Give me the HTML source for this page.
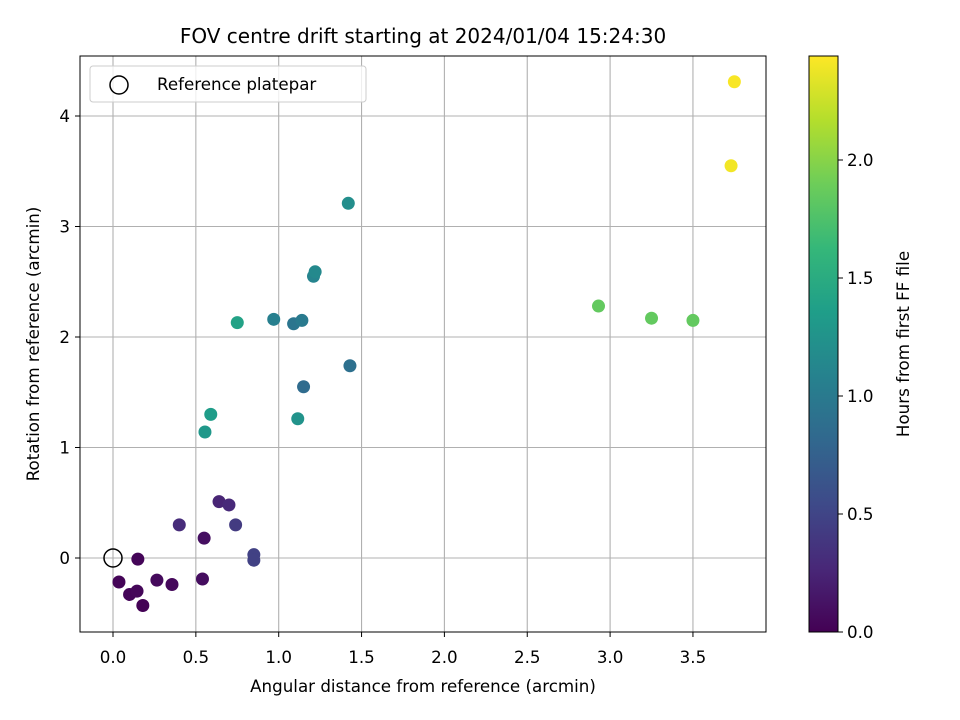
<!DOCTYPE html>
<html><head><meta charset="utf-8"><style>
body{margin:0;background:#fff}
svg{font-family:"DejaVu Sans","Liberation Sans",sans-serif;display:block}
</style></head><body>
<svg id="c" width="960" height="720" xmlns="http://www.w3.org/2000/svg"></svg>
<script>
const xs=[0.036,0.10,0.145,0.18,0.15,0.265,0.356,0.55,0.54,0.40,0.64,0.70,0.74,0.85,0.85,0.555,0.59,0.75,0.97,1.09,1.14,1.115,1.15,1.21,1.22,1.42,1.43,2.93,3.25,3.50,3.73,3.75];
const ys=[-0.217,-0.33,-0.30,-0.43,-0.01,-0.20,-0.24,0.18,-0.19,0.30,0.51,0.48,0.30,0.03,-0.02,1.14,1.30,2.13,2.16,2.12,2.15,1.26,1.55,2.55,2.59,3.21,1.74,2.28,2.17,2.15,3.55,4.31];
const hours=[0.02,0.03,0.04,0.01,0.03,0.06,0.05,0.1,0.08,0.3,0.25,0.28,0.42,0.47,0.47,1.3,1.35,1.4,1.05,0.95,1.0,1.25,0.85,1.1,1.15,1.2,0.9,1.85,1.85,1.85,2.4,2.42];
const xTicks=[0,0.5,1,1.5,2,2.5,3,3.5];
const yTicks=[0,1,2,3,4];
const cTicks=[0,0.5,1,1.5,2];
const X=v=>113+v*165.7, Y=v=>558-v*110.5, C=v=>632-v*236;
const vir=[[68,1,84],[72,40,120],[62,74,137],[49,104,142],[38,130,142],[31,158,137],[53,183,121],[109,205,89],[180,222,44],[253,231,37]];
function col(h){let t=Math.max(0,Math.min(1,h/2.44))*9,i=Math.min(8,Math.floor(t)),f=t-i;const a=vir[i],b=vir[i+1];return `rgb(${a.map((v,k)=>Math.round(v+(b[k]-v)*f)).join(',')})`;}
const s=document.getElementById('c');const NS='http://www.w3.org/2000/svg';
function el(t,a,p){const e=document.createElementNS(NS,t);for(const k in a)e.setAttribute(k,a[k]);(p||s).appendChild(e);return e;}
function tx(x,y,str,a,p){const e=el('text',Object.assign({x,y,'font-size':'16.7px',fill:'#000'},a||{}),p);e.textContent=str;return e;}
xTicks.forEach(v=>{const g=el('line',{x1:X(v),x2:X(v),y1:56,y2:632,stroke:'#b0b0b0','stroke-width':1.1});


el('line',{x1:X(v),x2:X(v),y1:632,y2:637,stroke:'#000'});
const t=tx(X(v),663,v.toFixed(1),{'text-anchor':'middle'});

});
yTicks.forEach(v=>{const g=el('line',{x1:80,x2:766,y1:Y(v),y2:Y(v),stroke:'#b0b0b0','stroke-width':1.1});


el('line',{x1:75,x2:80,y1:Y(v),y2:Y(v),stroke:'#000'});
const t=tx(70,Y(v)+6,String(v),{'text-anchor':'end'});

});
xs.forEach((v,i)=>{const p=el('circle',{cx:X(v),cy:Y(ys[i]),r:6.5,fill:col(hours[i])});

});
const ref=el('circle',{cx:X(0),cy:Y(0),r:9,fill:'none',stroke:'#000','stroke-width':1.5});


const fr=el('rect',{x:80,y:56,width:686,height:576,fill:'none',stroke:'#000','stroke-width':1});


const lg=el('g',{});


el('rect',{x:90,y:66,width:276,height:36,rx:3,fill:'#fff','fill-opacity':0.8,stroke:'#ccc'},lg);
el('circle',{cx:119,cy:85,r:9,fill:'none',stroke:'#000','stroke-width':1.5},lg);
const ll=tx(157,90,'Reference platepar',{},lg);


const ti=tx(423,43,'FOV centre drift starting at 2024/01/04 15:24:30',{'text-anchor':'middle','font-size':'20px'});


const xl=tx(423,692,'Angular distance from reference (arcmin)',{'text-anchor':'middle'});


const yl=tx(0,0,'Rotation from reference (arcmin)',{'text-anchor':'middle',transform:'translate(39,344) rotate(-90)'});


const defs=el('defs',{});const gr=el('linearGradient',{id:'vg',x1:0,y1:1,x2:0,y2:0},defs);
vir.forEach((c,i)=>el('stop',{offset:i/9,'stop-color':`rgb(${c.join(',')})`},gr));
const cb=el('rect',{x:809,y:56,width:29,height:576,fill:'url(#vg)',stroke:'#000','stroke-width':1});


cTicks.forEach(v=>{el('line',{x1:838,x2:843,y1:C(v),y2:C(v),stroke:'#000'});
const t=tx(847,C(v)+6,v.toFixed(1));

});
const cl=tx(0,0,'Hours from first FF file',{'text-anchor':'middle',transform:'translate(909,344) rotate(-90)'});


</script>
</body></html>
